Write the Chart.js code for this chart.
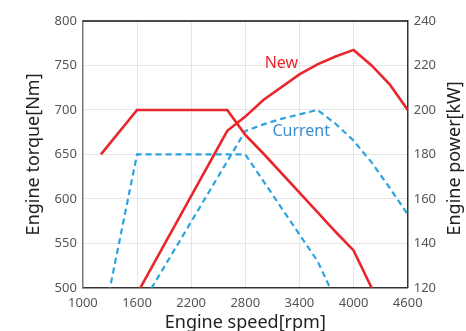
<!DOCTYPE html>
<html>
<head>
<meta charset="utf-8">
<script src="https://cdn.jsdelivr.net/npm/chart.js@4"></script>
<style>
html,body{margin:0;padding:0;background:#fff;overflow:hidden;}
#wrap{position:relative;width:466px;height:334px;}
</style>
</head>
<body>
<div id="wrap"><canvas id="c"></canvas></div>
<script>
// Engine speed [rpm]
const rpmNew = [1200,1600,2600,2800,3000,3400,3600,3800,4000,4200,4400,4600];
const torqueNew = [650,700,700,672,651,607,585,563,542,500,459,415];
const powerNew = [81.7,117.3,190.6,197,204.5,216,220.5,224,227,220,211.5,200];

const rpmCur = [1200,1600,2800,3000,3200,3400,3600,3800,4000,4200,4400,4600];
const torqueCur = [450,650,650,620,590,560,530,487,445,401,358,318];
const powerCur = [56.5,108.9,190.5,193.5,196,198,200,193.8,186.2,176.4,165,153];

const xTicks = [1000,1600,2200,2800,3400,4000,4600];
const torqueTicks = [500,550,600,650,700,750,800];
const powerTicks = [120,140,160,180,200,220,240];

const seriesLabels = [
  {text:'New', x:3200, y:752, color:'#e8262b'},
  {text:'Current', x:3420, y:676, color:'#3b8fcd'}
];

const RED = '#e8262b';
const BLUE = '#2ba3e0';
const FONT = '"Noto Sans", sans-serif';

const pts = (xs, ys) => xs.map((x,i)=>({x:x, y:ys[i]}));

const frame = {
  id:'frame',
  afterDraw(chart){
    const {ctx, chartArea:a} = chart;
    ctx.save();
    ctx.strokeStyle = '#111';
    ctx.lineWidth = 1.5;
    ctx.beginPath();
    ctx.moveTo(a.left, a.top); ctx.lineTo(a.right, a.top);
    ctx.stroke();
    // series labels
    const xs = chart.scales.x, ys = chart.scales.y;
    ctx.font = '16px ' + FONT;
    ctx.textAlign = 'center'; ctx.textBaseline = 'middle';
    seriesLabels.forEach(l=>{
      ctx.fillStyle = l.color;
      ctx.fillText(l.text, xs.getPixelForValue(l.x), ys.getPixelForValue(l.y));
    });
    // right axis title
    ctx.fillStyle = '#222';
    ctx.font = '18px ' + FONT;
    ctx.translate(455, (a.top + a.bottom)/2 + 4);
    ctx.rotate(-Math.PI/2);
    ctx.fillText('Engine power[kW]', 0, 0);
    ctx.restore();
  }
};

new Chart(document.getElementById('c'), {
  type:'line',
  data:{
    datasets:[
      {data:pts(rpmNew, torqueNew), yAxisID:'y', borderColor:RED, borderWidth:2.6, pointRadius:0, tension:0, fill:false},
      {data:pts(rpmNew, powerNew), yAxisID:'y1', borderColor:RED, borderWidth:2.6, pointRadius:0, tension:0, fill:false},
      {data:pts(rpmCur, torqueCur), yAxisID:'y', borderColor:BLUE, borderWidth:2.2, borderDash:[6,4], pointRadius:0, tension:0, fill:false},
      {data:pts(rpmCur, powerCur), yAxisID:'y1', borderColor:BLUE, borderWidth:2.2, borderDash:[6,4], pointRadius:0, tension:0, fill:false}
    ]
  },
  options:{
    responsive:true, maintainAspectRatio:false, animation:false,
    layout:{padding:{left:23, right:24, top:21, bottom:0}},
    plugins:{legend:{display:false}, tooltip:{enabled:false}},
    scales:{
      x:{type:'linear', min:1000, max:4600,
        afterBuildTicks: s => { s.ticks = xTicks.map(v=>({value:v})); },
        ticks:{color:'#555', font:{family:FONT, size:13}, padding:8, callback:v=>String(v), maxRotation:0},
        grid:{color:'#e6e6e6', drawTicks:false},
        border:{color:'#333', width:1.5},
        title:{display:true, text:'Engine speed[rpm]', color:'#222', font:{family:FONT, size:18}, padding:{top:-7,bottom:0}}
      },
      y:{position:'left', min:500, max:800,
        afterBuildTicks: s => { s.ticks = torqueTicks.map(v=>({value:v})); },
        ticks:{color:'#555', font:{family:FONT, size:13}, padding:6},
        grid:{color:'#e6e6e6', drawTicks:false},
        border:{color:'#777', width:1.5},
        title:{display:true, text:'Engine torque[Nm]', color:'#222', font:{family:FONT, size:18}, padding:{top:0,bottom:4}}
      },
      y1:{position:'right', min:120, max:240,
        afterBuildTicks: s => { s.ticks = powerTicks.map(v=>({value:v})); },
        ticks:{color:'#555', font:{family:FONT, size:13}, padding:6},
        grid:{drawOnChartArea:false, drawTicks:false},
        border:{color:'#333', width:1.5}
      }
    }
  },
  plugins:[frame]
});
</script>
</body>
</html>
